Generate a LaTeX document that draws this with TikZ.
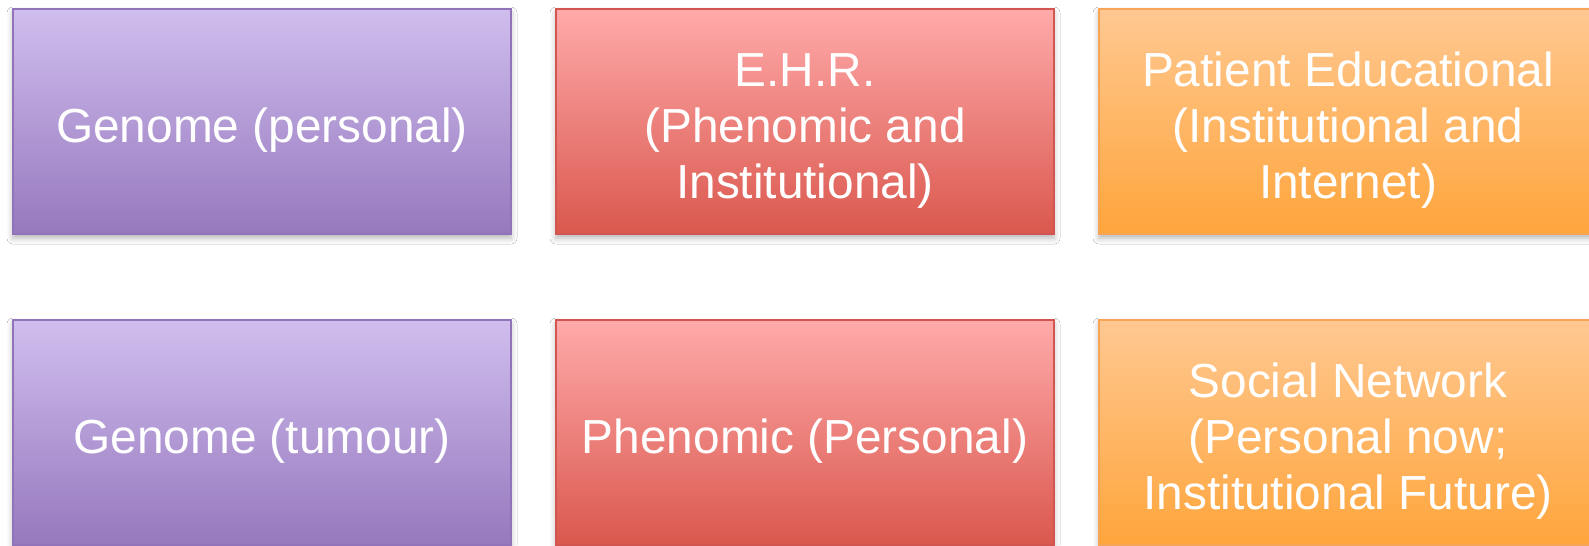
\documentclass[tikz,border=0pt]{standalone}
\usepackage{fontspec}
\setmainfont{Liberation Sans}
\usetikzlibrary{shadows.blur}
\definecolor{purpletop}{RGB}{208,190,238}
\definecolor{purplebot}{RGB}{150,120,190}
\definecolor{purpleline}{RGB}{145,115,185}
\definecolor{redtop}{RGB}{255,170,170}
\definecolor{redbot}{RGB}{218,88,78}
\definecolor{redline}{RGB}{210,85,80}
\definecolor{orangetop}{RGB}{255,200,145}
\definecolor{orangebot}{RGB}{255,165,60}
\definecolor{orangeline}{RGB}{245,165,85}
% text sits a little below the middle of each box
\newcommand{\boxtext}[1]{\raisebox{-0.1cm}[\height][\depth]{\begin{tabular}{@{}c@{}}#1\end{tabular}}}

\begin{document}
\begin{tikzpicture}[
  font=\fontsize{13.6}{16}\selectfont,
  boxstyle/.style={rectangle, text=white, line width=0.6pt,
                   minimum width=4.98cm, minimum height=2.25cm, inner sep=0pt,
                   blur shadow={shadow xshift=0pt, shadow yshift=-0.04cm,
                                shadow blur radius=0.06cm, shadow opacity=30}},
  genomebox/.style={boxstyle, top color=purpletop, bottom color=purplebot, draw=purpleline},
  phenobox/.style={boxstyle, top color=redtop, bottom color=redbot, draw=redline},
  socialbox/.style={boxstyle, top color=orangetop, bottom color=orangebot, draw=orangeline}
]
\useasboundingbox[fill=white] (0,0) rectangle (15.89,-5.45);
\node[genomebox] (personal)  at (2.62,-1.215)  {\boxtext{Genome (personal)}};
\node[phenobox]  (ehr)       at (8.05,-1.215)  {\boxtext{E.H.R.\\(Phenomic and\\Institutional)}};
\node[socialbox] (education) at (13.48,-1.215) {\boxtext{Patient Educational\\(Institutional and\\Internet)}};
\node[genomebox] (tumour)    at (2.62,-4.325)  {\boxtext{Genome (tumour)}};
\node[phenobox]  (phenomic)  at (8.05,-4.325)  {\boxtext{Phenomic (Personal)}};
\node[socialbox] (network)   at (13.48,-4.325) {\boxtext{Social Network\\(Personal now;\\Institutional Future)}};
\end{tikzpicture}
\end{document}
